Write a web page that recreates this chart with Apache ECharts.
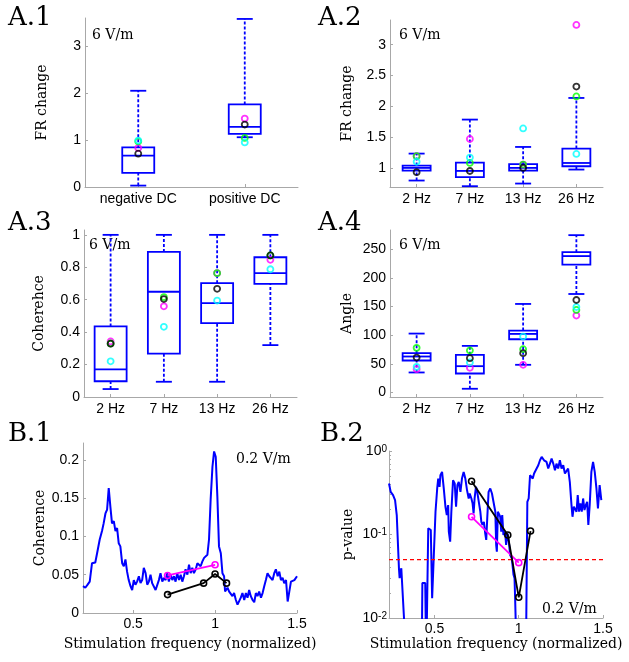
<!DOCTYPE html>
<html><head><meta charset="utf-8">
<script src="https://cdn.jsdelivr.net/npm/echarts@6/dist/echarts.min.js"></script>
<style>html,body{margin:0;padding:0;background:#fff}#c{width:629px;height:662px}</style>
</head><body><div id="c"></div>
<script>
// ---------- data ----------
const catsA1 = ['negative DC', 'positive DC'];
const catsHz = ['2 Hz', '7 Hz', '13 Hz', '26 Hz'];

// boxes: [lower whisker, Q1, median, Q3, upper whisker]
const boxA1 = [[0.03, 0.30, 0.67, 0.846, 2.05], [1.06, 1.13, 1.28, 1.76, 3.58]];
const cyanA1 = [0.99, 0.95];
const greenA1 = [0.97, 1.045];
const magentaA1 = [0.83, 1.457];
const blackA1 = [0.71, 1.33];

const boxA2 = [[0.795, 0.957, 1.0, 1.038, 1.232], [0.703, 0.849, 0.951, 1.086, 1.784], [0.746, 0.957, 1.0, 1.06, 1.34], [0.973, 1.027, 1.08, 1.314, 2.135]];
const cyanA2 = [1.10, 1.168, 1.64, 1.227];
const greenA2 = [1.19, 1.08, 1.054, 2.16];
const magentaA2 = [1.19, 1.47, 1.054, 3.32];
const blackA2 = [0.93, 0.95, 1.0, 2.32];

const boxA3 = [[0.049, 0.097, 0.170, 0.435, 1.0], [0.094, 0.267, 0.649, 0.895, 1.0], [0.094, 0.456, 0.579, 0.702, 1.0], [0.32, 0.698, 0.764, 0.862, 1.0]];
const cyanA3 = [0.22, 0.433, 0.595, 0.788];
const greenA3 = [0.33, 0.616, 0.764, 0.873];
const magentaA3 = [0.343, 0.559, 0.764, 0.846];
const blackA3 = [0.329, 0.604, 0.667, 0.873];

const boxA4 = [[34.9, 55.8, 62.8, 68.6, 102.9], [6.4, 33.1, 45.9, 65.7, 81.4], [48.3, 93.0, 102.3, 108.1, 154.7], [172.1, 223.3, 238.4, 245.3, 275.0]];
const cyanA4 = [44.8, 52.3, 97.7, 149.4];
const greenA4 = [77.9, 73.3, 75.6, 144.2];
const magentaA4 = [40.7, 43.0, 48.3, 134.3];
const blackA4 = [61.0, 59.9, 68.6, 161.6];

const ticksA1 = [0, 1, 2, 3];
const ticksA2 = [1, 1.5, 2, 2.5, 3];
const ticksA3 = [0, 0.2, 0.4, 0.6, 0.8, 1];
const ticksA4 = [0, 50, 100, 150, 200, 250];
const ticksB1y = [0, 0.05, 0.1, 0.15, 0.2];
const ticksBx = [0.5, 1, 1.5];

const b1Freq = [0.194,0.208,0.222,0.235,0.249,0.269,0.280,0.296,0.310,0.320,0.331,0.341,0.351,0.361,0.371,0.382,0.392,0.402,0.412,0.422,0.433,0.443,0.453,0.463,0.473,0.484,0.494,0.504,0.514,0.524,0.535,0.545,0.555,0.565,0.576,0.586,0.596,0.606,0.616,0.627,0.637,0.647,0.657,0.667,0.678,0.688,0.698,0.708,0.718,0.729,0.739,0.749,0.759,0.769,0.780,0.790,0.800,0.810,0.820,0.831,0.841,0.851,0.861,0.871,0.882,0.892,0.902,0.912,0.922,0.933,0.943,0.953,0.963,0.973,0.984,0.994,1.004,1.014,1.024,1.035,1.045,1.055,1.061,1.076,1.086,1.096,1.106,1.116,1.127,1.137,1.147,1.157,1.167,1.178,1.188,1.198,1.208,1.218,1.229,1.239,1.249,1.259,1.269,1.280,1.290,1.300,1.310,1.320,1.331,1.341,1.351,1.361,1.371,1.382,1.392,1.402,1.412,1.422,1.433,1.443,1.453,1.463,1.473,1.484,1.494,1.500];
const b1Coh = [0.035,0.033,0.037,0.041,0.065,0.066,0.078,0.096,0.107,0.117,0.130,0.135,0.163,0.139,0.117,0.120,0.107,0.111,0.091,0.087,0.065,0.061,0.070,0.054,0.043,0.035,0.030,0.043,0.037,0.041,0.048,0.039,0.043,0.059,0.052,0.037,0.041,0.050,0.039,0.041,0.030,0.028,0.043,0.052,0.041,0.046,0.043,0.052,0.041,0.050,0.043,0.048,0.041,0.052,0.043,0.050,0.041,0.048,0.057,0.050,0.063,0.052,0.059,0.052,0.057,0.065,0.063,0.061,0.067,0.072,0.074,0.076,0.096,0.148,0.191,0.211,0.204,0.152,0.087,0.078,0.052,0.048,0.028,0.033,0.028,0.030,0.022,0.026,0.017,0.011,0.013,0.020,0.026,0.017,0.026,0.020,0.030,0.022,0.017,0.014,0.026,0.022,0.028,0.020,0.026,0.035,0.043,0.052,0.048,0.050,0.043,0.052,0.057,0.048,0.054,0.043,0.046,0.039,0.043,0.015,0.028,0.041,0.041,0.043,0.041,0.048];
const b1MagFreq = [0.71, 1.0];
const b1MagCoh = [0.049, 0.063];
const b1BlkFreq = [0.71, 0.93, 1.0, 1.07];
const b1BlkCoh = [0.024, 0.039, 0.051, 0.039];

const b2Freq = [0.230,0.240,0.254,0.266,0.276,0.283,0.289,0.293,0.303,0.313,0.319,0.325,0.35,0.40,0.424,0.428,0.445,0.451,0.458,0.463,0.470,0.478,0.486,0.496,0.506,0.516,0.522,0.530,0.535,0.545,0.555,0.565,0.573,0.581,0.585,0.593,0.600,0.610,0.620,0.628,0.636,0.644,0.654,0.663,0.673,0.683,0.693,0.703,0.709,0.719,0.726,0.732,0.738,0.746,0.752,0.762,0.772,0.778,0.785,0.793,0.801,0.807,0.813,0.821,0.831,0.841,0.851,0.861,0.866,0.870,0.876,0.884,0.890,0.896,0.902,0.909,0.919,0.925,0.933,0.941,0.949,0.959,0.969,0.975,0.979,0.982,0.990,1.03,1.043,1.051,1.059,1.067,1.077,1.083,1.091,1.096,1.106,1.116,1.126,1.136,1.142,1.150,1.156,1.165,1.175,1.185,1.195,1.205,1.215,1.224,1.234,1.244,1.254,1.264,1.274,1.283,1.293,1.303,1.313,1.319,1.327,1.335,1.343,1.350,1.358,1.366,1.374,1.382,1.390,1.398,1.406,1.413,1.421,1.431,1.441,1.451,1.461,1.470,1.480,1.490];
const b2P = [0.408,0.324,0.296,0.258,0.171,0.163,0.0394,0.030,0.0394,0.0377,0.01,0.003,0.002,0.002,0.003,0.0263,0.0263,0.003,0.003,0.119,0.124,0.113,0.0173,0.0569,0.1875,0.356,0.468,0.372,0.513,0.562,0.356,0.215,0.171,0.225,0.108,0.082,0.1875,0.447,0.408,0.215,0.390,0.427,0.324,0.468,0.562,0.468,0.340,0.270,0.310,0.270,0.236,0.179,0.270,0.372,0.340,0.356,0.1875,0.142,0.130,0.142,0.103,0.086,0.156,0.324,0.356,0.310,0.296,0.1875,0.075,0.0624,0.1875,0.196,0.163,0.108,0.171,0.0986,0.108,0.075,0.103,0.082,0.0569,0.0519,0.0329,0.030,0.0158,0.009,0.003,0.003,0.004,0.246,0.270,0.513,0.490,0.468,0.537,0.513,0.617,0.675,0.774,0.849,0.889,0.774,0.811,0.740,0.617,0.706,0.811,0.706,0.589,0.706,0.617,0.774,0.617,0.675,0.537,0.562,0.617,0.428,0.225,0.163,0.215,0.205,0.1875,0.296,0.1875,0.236,0.1875,0.270,0.196,0.225,0.246,0.130,0.225,0.562,0.740,0.562,0.356,0.205,0.390,0.258];
const b2MagFreq = [0.72, 1.0];
const b2MagP = [0.163, 0.046];
const b2BlkFreq = [0.72, 0.935, 1.0, 1.07];
const b2BlkP = [0.435, 0.0986, 0.0177, 0.110];
const pThreshold = 0.05;

// axis ranges
const b1XRange = [0.194, 1.5];
const b2XRange = [0.23, 1.5];

// ---------- styling ----------
const BLUE = '#0000ff', CYAN = '#00ffff', GREEN = '#00ff00', MAGENTA = '#ff00ff', BLACK = '#000000', RED = '#ff0000';
const AX = '#a8a8a8';
const SERIF = '"DejaVu Serif", serif';
const SANS = '"Liberation Sans", Arial, sans-serif';
const lbl = {color: '#000', fontFamily: SANS, fontSize: 14};
const nameStyle = {color: '#000', fontFamily: SERIF, fontSize: 14};

const grids = [
  {left: 85, top: 18, width: 213, height: 169},
  {left: 390, top: 20, width: 213, height: 167},
  {left: 84, top: 230, width: 213, height: 167},
  {left: 390, top: 230, width: 213, height: 167},
  {left: 83, top: 443, width: 214, height: 170},
  {left: 389, top: 451, width: 214, height: 167}
].map(g => Object.assign({outerBoundsMode: 'none', containLabel: false}, g));

function catX(i, cats) {
  return {type: 'category', gridIndex: i, data: cats, boundaryGap: true,
    axisLine: {show: true, onZero: false, lineStyle: {color: AX, width: 1}},
    axisTick: {show: true, inside: true, length: 3, alignWithLabel: true, lineStyle: {color: AX}},
    axisLabel: Object.assign({margin: 5, interval: 0}, lbl), splitLine: {show: false}};
}
function valY(i, min, max, ticks, name, gap) {
  return {type: 'value', gridIndex: i, min: min, max: max,
    axisLine: {show: true, onZero: false, lineStyle: {color: AX, width: 1}},
    axisTick: {show: true, inside: true, length: 3, customValues: ticks, lineStyle: {color: AX}},
    axisLabel: Object.assign({margin: 4, customValues: ticks}, lbl),
    splitLine: {show: false}, name: name, nameLocation: 'middle', nameGap: gap, nameRotate: 90,
    nameTextStyle: nameStyle};
}

function boxRenderer(boxW, capW) {
  return function (params, api) {
    const xi = api.value(0);
    const y = [1, 2, 3, 4, 5].map(k => api.coord([xi, api.value(k)])[1]);
    const cx = api.coord([xi, api.value(1)])[0];
    const solid = {stroke: BLUE, lineWidth: 1.8, fill: null};
    const dashed = {stroke: BLUE, lineWidth: 1.8, lineDash: [3, 2], fill: null};
    return {type: 'group', children: [
      {type: 'line', shape: {x1: cx, y1: y[0], x2: cx, y2: y[1]}, style: dashed},
      {type: 'line', shape: {x1: cx, y1: y[3], x2: cx, y2: y[4]}, style: dashed},
      {type: 'line', shape: {x1: cx - capW / 2, y1: y[0], x2: cx + capW / 2, y2: y[0]}, style: solid},
      {type: 'line', shape: {x1: cx - capW / 2, y1: y[4], x2: cx + capW / 2, y2: y[4]}, style: solid},
      {type: 'rect', shape: {x: cx - boxW / 2, y: y[3], width: boxW, height: y[1] - y[3]}, style: {stroke: BLUE, lineWidth: 1.8, fill: 'none'}},
      {type: 'line', shape: {x1: cx - boxW / 2, y1: y[2], x2: cx + boxW / 2, y2: y[2]}, style: solid}
    ]};
  };
}
function boxSeries(i, boxes, boxW) {
  return {type: 'custom', xAxisIndex: i, yAxisIndex: i, renderItem: boxRenderer(boxW, 16),
    data: boxes.map((b, k) => [k].concat(b)), encode: {x: 0, y: [1, 2, 3, 4, 5]}, z: 2, silent: true};
}
function dots(i, vals, color) {
  return {type: 'scatter', xAxisIndex: i, yAxisIndex: i, data: vals, symbol: 'circle', symbolSize: 6,
    itemStyle: {color: 'rgba(0,0,0,0)', borderColor: color, borderWidth: 1.8}, z: 3, silent: true};
}
function dotSet(i, m, g, c, b) {
  return [dots(i, m, MAGENTA), dots(i, g, GREEN), dots(i, c, CYAN), dots(i, b, BLACK)];
}
function zip(a, b) { return a.map((v, k) => [v, b[k]]); }
function mline(i, data, color) {
  return {type: 'line', xAxisIndex: i, yAxisIndex: i, data: data, symbol: 'circle', symbolSize: 6, showSymbol: true,
    lineStyle: {color: color, width: 1.8}, itemStyle: {color: 'rgba(0,0,0,0)', borderColor: color, borderWidth: 1.6},
    z: 4, silent: true};
}

const bx = (i, range, gap) => ({type: 'value', gridIndex: i, min: range[0], max: range[1],
  axisLine: {show: true, onZero: false, lineStyle: {color: AX, width: 1}},
  axisTick: {show: true, inside: true, length: 3, customValues: ticksBx, lineStyle: {color: AX}},
  axisLabel: Object.assign({margin: 4, customValues: ticksBx}, lbl), splitLine: {show: false},
  name: 'Stimulation frequency (normalized)', nameLocation: 'middle', nameGap: gap, nameTextStyle: nameStyle});

const texts = [
  ['A.1', 8, 18, 26], ['A.2', 318, 18, 26], ['A.3', 8, 223, 26], ['A.4', 318, 223, 26],
  ['B.1', 8, 434, 26], ['B.2', 320, 434, 26],
  ['6 V/m', 92, 35, 14], ['6 V/m', 399, 35.5, 14], ['6 V/m', 89, 245, 14], ['6 V/m', 399, 245, 14],
  ['0.2 V/m', 236, 459, 14], ['0.2 V/m', 542, 609, 14]
];

const option = {
  animation: false,
  backgroundColor: '#fff',
  grid: grids,
  xAxis: [catX(0, catsA1), catX(1, catsHz), catX(2, catsHz), catX(3, catsHz), bx(4, b1XRange, 24), bx(5, b2XRange, 17)],
  yAxis: [
    valY(0, 0, 3.6, ticksA1, 'FR change', 36),
    valY(1, 0.69, 3.4, ticksA2, 'FR change', 36),
    valY(2, 0, 1.03, ticksA3, 'Coherehce', 38),
    valY(3, -8, 284, ticksA4, 'Angle', 36),
    valY(4, 0, 0.222, ticksB1y, 'Coherence', 36),
    {type: 'log', gridIndex: 5, min: 0.01, max: 1, logBase: 10,
      axisLine: {show: true, onZero: false, lineStyle: {color: AX, width: 1}},
      axisTick: {show: true, inside: true, length: 3, lineStyle: {color: AX}},
      minorTick: {show: true, splitNumber: 9, length: 2, lineStyle: {color: AX}},
      axisLabel: {margin: 2, formatter: function (v) { return '{b|10}{s|' + Math.round(Math.log10(v)) + '}'; },
        rich: {b: {fontFamily: SANS, fontSize: 14, color: '#000'}, s: {fontFamily: SANS, fontSize: 10, color: '#000', verticalAlign: 'top'}}},
      splitLine: {show: false}, name: 'p-value', nameLocation: 'middle', nameGap: 34, nameRotate: 90, nameTextStyle: nameStyle}
  ],
  series: [].concat(
    [boxSeries(0, boxA1, 32)], dotSet(0, magentaA1, greenA1, cyanA1, blackA1),
    [boxSeries(1, boxA2, 28)], dotSet(1, magentaA2, greenA2, cyanA2, blackA2),
    [boxSeries(2, boxA3, 32)], dotSet(2, magentaA3, greenA3, cyanA3, blackA3),
    [boxSeries(3, boxA4, 28)], dotSet(3, magentaA4, greenA4, cyanA4, blackA4),
    [{type: 'line', xAxisIndex: 4, yAxisIndex: 4, data: zip(b1Freq, b1Coh), showSymbol: false, symbol: 'none',
      lineStyle: {color: BLUE, width: 2}, z: 2, silent: true},
     mline(4, zip(b1MagFreq, b1MagCoh), MAGENTA), mline(4, zip(b1BlkFreq, b1BlkCoh), BLACK),
     {type: 'line', xAxisIndex: 5, yAxisIndex: 5, data: zip(b2Freq, b2P), showSymbol: false, symbol: 'none',
      lineStyle: {color: BLUE, width: 2}, z: 2, silent: true},
     {type: 'line', xAxisIndex: 5, yAxisIndex: 5, data: b2XRange.map(x => [x, pThreshold]),
      showSymbol: false, symbol: 'none', lineStyle: {color: RED, type: [4, 3], width: 1.4}, z: 3, silent: true},
     mline(5, zip(b2MagFreq, b2MagP), MAGENTA), mline(5, zip(b2BlkFreq, b2BlkP), BLACK)]
  ),
  graphic: texts.map(t => ({type: 'text', x: t[1], y: t[2], silent: true,
    style: {text: t[0], fill: '#000', font: t[3] + 'px ' + SERIF, verticalAlign: 'middle', textVerticalAlign: 'middle'}}))
};

const chart = echarts.init(document.getElementById('c'), null, {renderer: 'canvas'});
chart.setOption(option);
</script></body></html>
